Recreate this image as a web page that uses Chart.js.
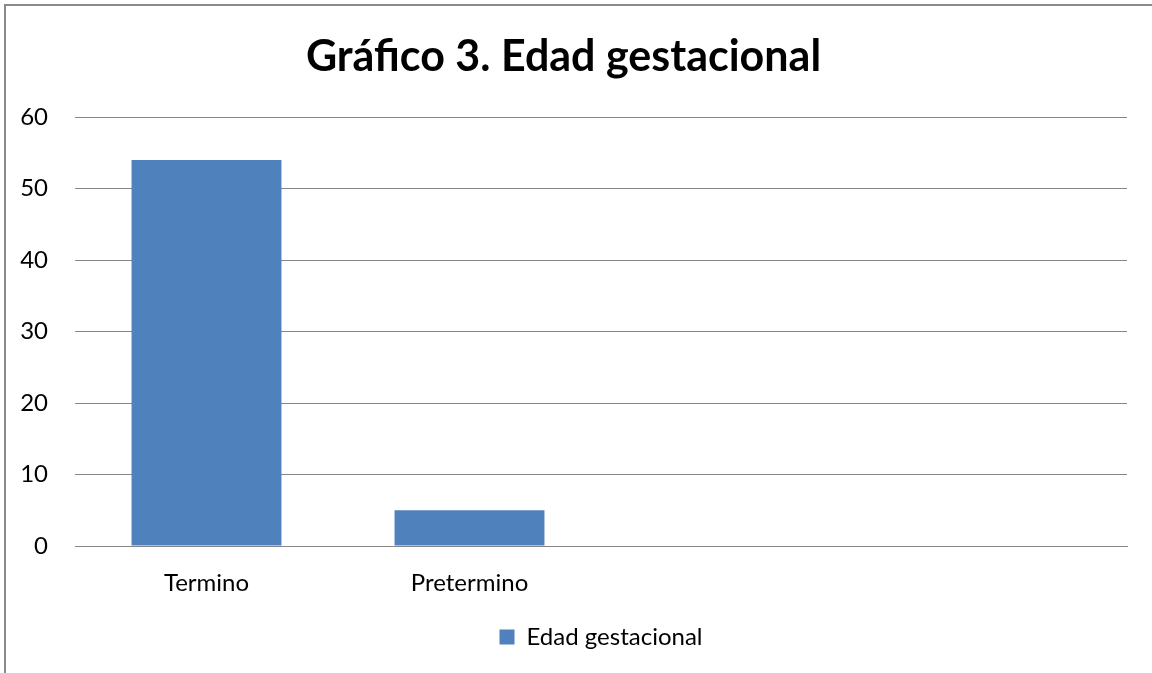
<!DOCTYPE html>
<html>
<head>
<meta charset="utf-8">
<script src="https://cdn.jsdelivr.net/npm/chart.js@4"></script>
<style>
  html, body { margin: 0; padding: 0; background: #fff; overflow: hidden; }
  #wrap { position: relative; width: 1152px; height: 673px; }
  #frame { position: absolute; left: 4px; top: 4px; width: 2000px; height: 2000px;
           border-top: 2px solid #8a8a8a; border-left: 2px solid #8a8a8a; }
  canvas { position: absolute; left: 0; top: 0; }
</style>
</head>
<body>
<div id="wrap">
  <div id="frame"></div>
  <canvas id="chart" width="1152" height="673"></canvas>
</div>
<script>
  // values
  const categories = ["Termino", "Pretermino", "", ""];
  const weeks = [54, 5, null, null];
  const yTicks = [0, 10, 20, 30, 40, 50, 60];

  const FONT = "Lato, 'Open Sans', sans-serif";
  const GRID = "#868686";

  new Chart(document.getElementById("chart"), {
    type: "bar",
    data: {
      labels: categories,
      datasets: [{
        label: "Edad gestacional",
        data: weeks,
        backgroundColor: "#4f81bd",
        borderWidth: 0,
        categoryPercentage: 1,
        barPercentage: 0.57,
      }],
    },
    options: {
      responsive: false,
      animation: false,
      layout: { padding: { left: 0, right: 25, top: 0, bottom: 14 } },
      plugins: {
        title: {
          display: true,
          text: "Gráfico 3. Edad gestacional",
          color: "#000",
          font: { family: FONT, size: 43, weight: "bold", lineHeight: 1 },
          padding: { top: 36, bottom: 38 },
        },
        legend: {
          position: "bottom",
          fullSize: false,
          labels: {
            color: "#000",
            font: { family: FONT, size: 24 },
            boxWidth: 15, boxHeight: 15,
          },
        },
        tooltip: { enabled: false },
      },
      scales: {
        x: {
          grid: { display: false, drawTicks: false },
          border: { color: GRID, width: 1 },
          ticks: { color: "#000", font: { family: FONT, size: 24 }, padding: 23, maxRotation: 0 },
          afterFit: (s) => { s.height = 69; },
        },
        y: {
          min: 0, max: 60,
          afterBuildTicks: (s) => { s.ticks = yTicks.map((v) => ({ value: v })); },
          grid: { color: GRID, lineWidth: 1, drawTicks: false },
          border: { display: false },
          ticks: { color: "#000", font: { family: FONT, size: 24 }, padding: 27 },
          afterFit: (s) => { s.width = 75; },
        },
      },
    },
  });
</script>
</body>
</html>
